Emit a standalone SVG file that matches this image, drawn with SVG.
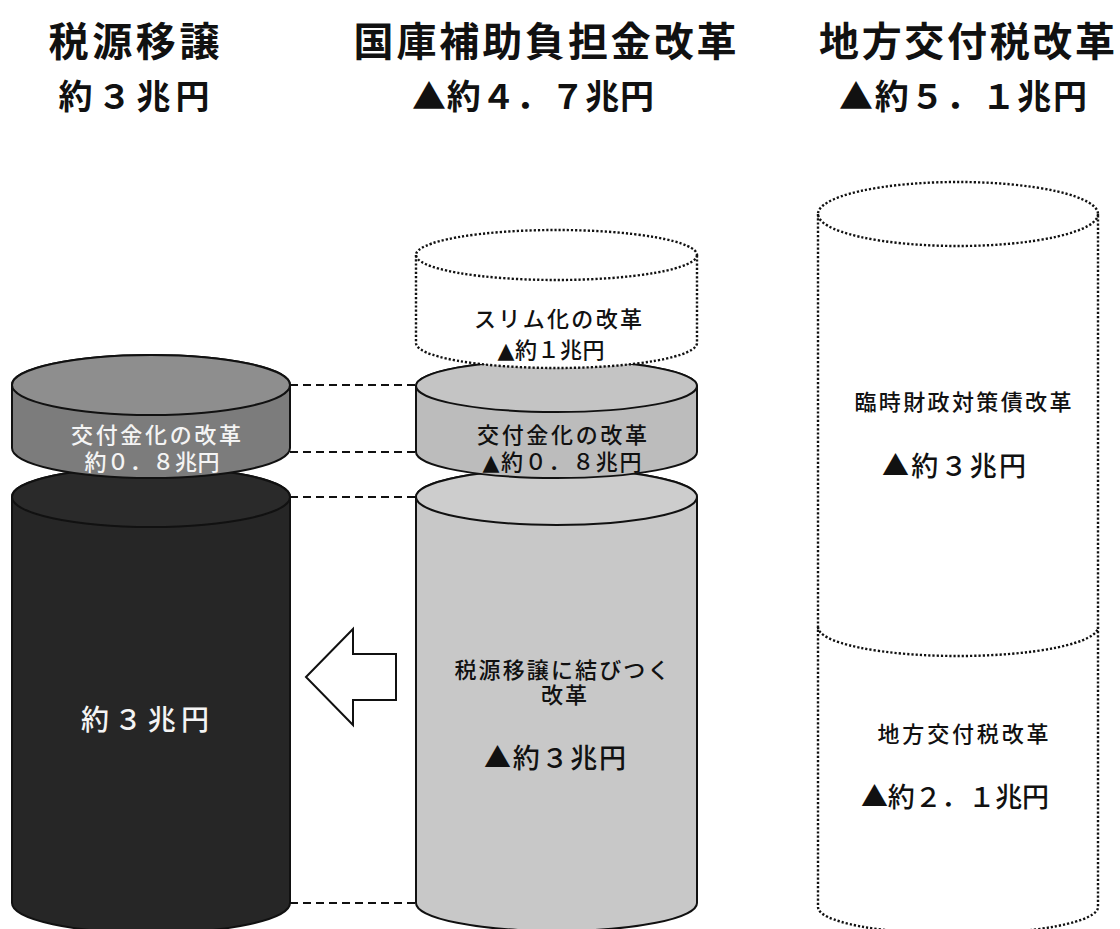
<svg xmlns="http://www.w3.org/2000/svg" width="1120" height="929" viewBox="0 0 1120 929">
<style>
text{font-family:"Noto Sans CJK JP","Noto Sans CJK SC",sans-serif;text-anchor:middle}
.t{font-size:40px;font-weight:bold;fill:#111}
.s{font-size:34px;font-weight:bold;fill:#111}
.i{font-size:22px;font-weight:500;fill:#111}
.l{font-family:"Liberation Sans","Noto Sans CJK JP",sans-serif}
.tri{font-family:"DejaVu Sans",sans-serif}
.b{font-size:27px;font-weight:500;fill:#111}
.w{fill:#f4f4f4}
.solid{stroke:#111;stroke-width:2}
.dot{fill:none;stroke:#111;stroke-width:2.4;stroke-dasharray:2.2 2;stroke-linecap:butt}
.dash{stroke:#111;stroke-width:2;stroke-dasharray:8 5;fill:none}
</style>
<rect width="1120" height="929" fill="#fff"/>
<g id="titles">
<text class="t" x="134" y="56" textLength="171" lengthAdjust="spacing">税源移譲</text>
<text class="s" x="134" y="109" textLength="151" lengthAdjust="spacing">約３兆円</text>
<text class="t" x="545" y="56" textLength="383" lengthAdjust="spacing">国庫補助負担金改革</text>
<text class="s" x="533" y="109" textLength="242" lengthAdjust="spacing">▲約４．７兆円</text>
<text class="t" x="967" y="56" textLength="296" lengthAdjust="spacing">地方交付税改革</text>
<text class="s" x="963" y="109" textLength="248" lengthAdjust="spacing">▲約５．１兆円</text>
</g>
<g id="connectors">
<line class="dash" x1="290" y1="385" x2="416" y2="385"/>
<line class="dash" x1="290" y1="452" x2="416" y2="452"/>
<line class="dash" x1="290" y1="497" x2="416" y2="497"/>
<line class="dash" x1="290" y1="903" x2="416" y2="903"/>
<polygon id="arrow" points="306,677 353,629 353,654 396,654 396,700 353,700 353,725" fill="#fff" stroke="#111" stroke-width="2" stroke-linejoin="miter"/>
</g>
<g id="dark-cylinder">
<path class="solid" d="M12,497 L12,903 A139,30 0 0 0 290,903 L290,497 A139,30 0 0 0 12,497 Z" fill="#262626"/>
<ellipse cx="151" cy="497" rx="139" ry="30" fill="#2a2a2a" stroke="#111" stroke-width="2"/>
<text class="b w" x="145" y="730" textLength="128" lengthAdjust="spacing" style="font-size:28px">約３兆円</text>
</g>
<g id="left-disk">
<path class="solid" d="M12,385 L12,448 A139,30 0 0 0 290,448 L290,385 A139,30 0 0 0 12,385 Z" fill="#7c7c7c"/>
<ellipse cx="151" cy="385" rx="139" ry="30" fill="#8e8e8e" stroke="#111" stroke-width="2"/>
<text class="i w l" x="156" y="443" textLength="170" lengthAdjust="spacing">交付金化の改革</text>
<text class="i w l" x="152" y="470" textLength="135" lengthAdjust="spacing">約０．８兆円</text>
</g>
<g id="middle-big">
<path class="solid" d="M416,497 L416,903 A140.5,28 0 0 0 697,903 L697,497 A140.5,28 0 0 0 416,497 Z" fill="#c8c8c8"/>
<ellipse cx="556.5" cy="497" rx="140.5" ry="28" fill="#cdcdcd" stroke="#111" stroke-width="2"/>
<text class="i l" x="562" y="678" textLength="215" lengthAdjust="spacing">税源移譲に結びつく</text>
<text class="i l" x="564" y="703" textLength="46" lengthAdjust="spacing">改革</text>
<text class="b" x="555" y="768" textLength="142" lengthAdjust="spacing">▲約３兆円</text>
</g>
<g id="middle-disk">
<path class="solid" d="M416,386 L416,452 A140.5,26 0 0 0 697,452 L697,386 A140.5,26 0 0 0 416,386 Z" fill="#bcbcbc"/>
<ellipse cx="556.5" cy="386" rx="140.5" ry="26" fill="#c4c4c4" stroke="#111" stroke-width="2"/>
<text class="i l" x="562" y="443" textLength="170" lengthAdjust="spacing">交付金化の改革</text>
<text class="i l" x="562" y="470" textLength="159" lengthAdjust="spacing"><tspan class="tri">▲</tspan>約０．８兆円</text>
</g>
<g id="slim">
<path d="M416,255 L416,343 A140.5,25 0 0 0 697,343 L697,255 A140.5,25 0 0 0 416,255 Z" fill="#fff"/>
<path class="dot" d="M416,255 L416,343 A140.5,25 0 0 0 697,343 L697,255"/>
<ellipse class="dot" cx="556.5" cy="255" rx="140.5" ry="25"/>
<text class="i l" x="558" y="327" textLength="168" lengthAdjust="spacing">スリム化の改革</text>
<text class="i l" x="551" y="358" textLength="107" lengthAdjust="spacing"><tspan class="tri">▲</tspan>約１兆円</text>
</g>
<g id="right-cylinder">
<path class="dot" d="M818,214 L818,907 A140,27 0 0 0 1098,907 L1098,214"/>
<ellipse class="dot" cx="958" cy="214" rx="140" ry="32"/>
<path class="dot" d="M818,627 A140,29 0 0 0 1098,627"/>
<text class="i" x="963" y="410" textLength="217" lengthAdjust="spacing">臨時財政対策債改革</text>
<text class="b" x="954" y="476" textLength="144" lengthAdjust="spacing">▲約３兆円</text>
<text class="i" x="963" y="742" textLength="171" lengthAdjust="spacing">地方交付税改革</text>
<text class="b" x="955" y="807" textLength="188" lengthAdjust="spacing">▲約２．１兆円</text>
</g>
</svg>
